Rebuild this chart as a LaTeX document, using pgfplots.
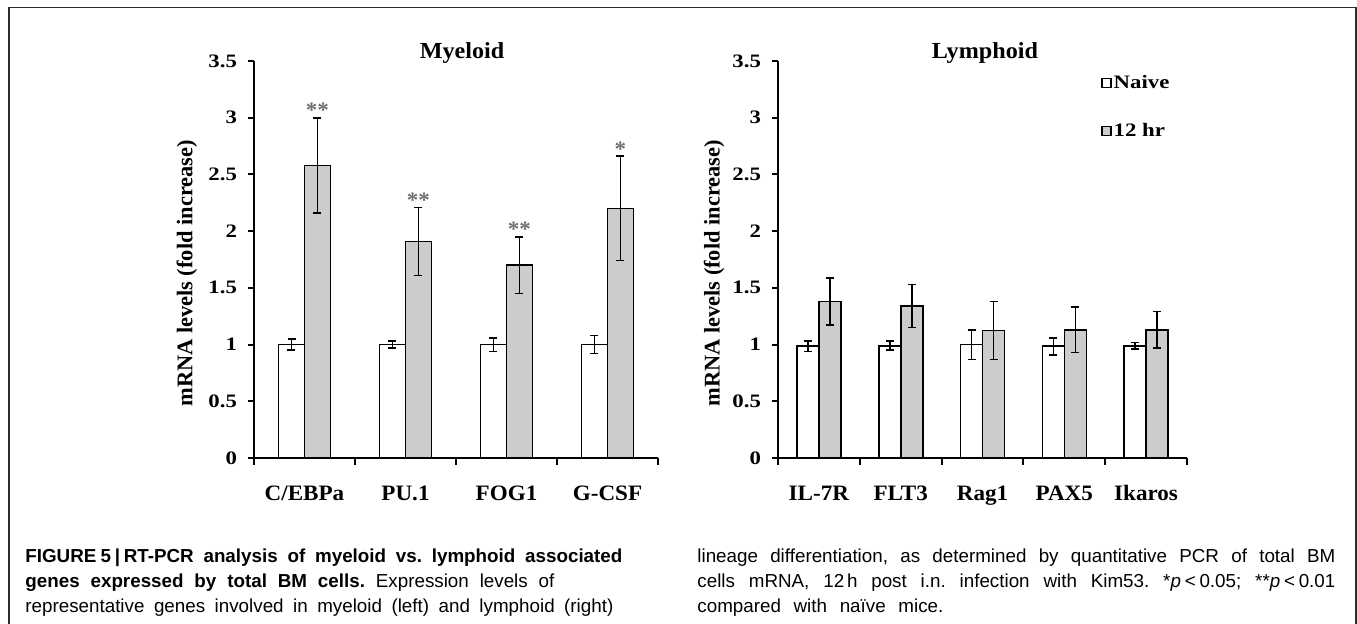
\documentclass[border=0pt]{standalone}
\usepackage{fontspec}
\usepackage{pgfplots}
\pgfplotsset{compat=1.18}
\setmainfont{Liberation Serif}
\newfontfamily\chartfont[FakeStretch=1.05]{Liberation Serif}
\newfontfamily\tickfont[FakeStretch=1.2]{Liberation Serif}
\newfontfamily\capfont{Liberation Sans}
\definecolor{barfill}{RGB}{204,204,204}
\definecolor{stargray}{RGB}{110,110,110}
\definecolor{framegray}{RGB}{45,45,45}
\frenchspacing

\pgfplotsset{
  mybase/.style={
    scale only axis, ymin=0, ymax=3.5, height=198.5pt,
    axis x line*=bottom, axis y line*=left,
    axis line style={line width=1pt, black},
    ytick={0,0.5,1,1.5,2,2.5,3,3.5},
    yticklabels={0,0.5,1,1.5,2,2.5,3,3.5},
    tick align=outside,
    major tick length=3pt, minor tick length=3.5pt,
    major x tick style={draw=none},
    minor x tick style={line width=1pt, black},
    major y tick style={line width=1pt, black},
    yticklabel style={font=\tickfont\bfseries\fontsize{9.5}{11}\selectfont, xshift=-2pt},
    xticklabel style={font=\chartfont\bfseries\fontsize{11}{13}\selectfont, anchor=base, yshift=-18.1pt},
    ylabel={mRNA levels (fold increase)},
    ylabel style={font=\bfseries\fontsize{11.2}{13}\selectfont, anchor=center},
    title style={font=\chartfont\bfseries\fontsize{11.5}{13}\selectfont, anchor=base, yshift=-5.5pt},
    clip=false,
  },
  sqlegend/.style={legend image code/.code={\draw[##1, line width=0.8pt] (0pt,-2.9pt) rectangle (4.5pt,1.6pt);}},
  errstyle/.style={error bars/.cd, y dir=both, y explicit,
    error bar style={line width=0.8pt, black},
    error mark options={rotate=90, mark size=2pt, line width=0.8pt, black}},
}

\begin{document}
\begin{tikzpicture}
\useasboundingbox (0,0) rectangle (678.5pt,311.5pt);
\draw[framegray, line width=0.75pt] (4.5pt,-1pt) -- (4.5pt,307.75pt) -- (678pt,307.75pt) -- (678pt,-1pt);

% ---------------- Myeloid ----------------
\begin{axis}[mybase,
  at={(127pt,82.5pt)}, anchor=south west,
  width=202pt, xmin=0, xmax=4,
  xtick={0.5,1.5,2.5,3.5}, xticklabels={C/EBPa,PU.1,FOG1,G-CSF},
  minor xtick={0,1,2,3,4},
  ylabel style={at={(axis description cs:-0.166,0.465)}},
  title={Myeloid}, title style={at={(axis description cs:0.515,1.003)}},
]
% Naive
\addplot[ybar, bar width=13pt, bar shift=0pt, fill=white, draw=black, line width=0.8pt, errstyle]
  coordinates {(0.37129,1) +- (0,0.05) (1.37129,1) +- (0,0.03) (2.37129,1) +- (0,0.06) (3.37129,1) +- (0,0.08)};
% 12 hr
\addplot[ybar, bar width=13pt, bar shift=0pt, fill=barfill, draw=black, line width=0.8pt, errstyle]
  coordinates {(0.62871,2.58) +- (0,0.42) (1.62871,1.91) +- (0,0.30) (2.62871,1.70) +- (0,0.25) (3.62871,2.20) +- (0,0.46)};
% significance marks
\addplot[draw=none, mark=none, nodes near coords, point meta=explicit symbolic,
  nodes near coords style={anchor=base, inner sep=0pt, yshift=0pt, text=stargray,
    font=\chartfont\bfseries\fontsize{11}{11}\selectfont}]
  coordinates {(0.62871,3.00) [**] (1.62871,2.21) [**] (2.62871,1.95) [**] (3.62871,2.66) [*]};
\end{axis}

% ---------------- Lymphoid ----------------
\begin{axis}[mybase,
  at={(389pt,82.5pt)}, anchor=south west,
  width=204.5pt, xmin=0, xmax=5,
  xtick={0.5,1.5,2.5,3.5,4.5}, xticklabels={IL-7R,FLT3,Rag1,PAX5,Ikaros},
  minor xtick={0,1,2,3,4,5},
  ylabel style={at={(axis description cs:-0.156,0.465)}},
  title={Lymphoid}, title style={at={(axis description cs:0.506,1.003)}},
  legend cell align=left,
  legend style={at={(axis description cs:0.79,0.964)}, anchor=north west,
    draw=none, fill=none, inner sep=0pt, outer sep=0pt,
    row sep=17.5pt, column sep=1pt,
    nodes={inner sep=0pt, text height=6.5pt, text depth=0pt,
      font=\tickfont\bfseries\fontsize{9.5}{11}\selectfont}},
]
\addplot[ybar, bar width=11pt, bar shift=0pt, fill=white, draw=black, line width=0.8pt, sqlegend, errstyle]
  coordinates {(0.36553,0.985) +- (0,0.045) (1.36553,0.99) +- (0,0.04) (2.36553,1.0) +- (0,0.13) (3.36553,0.985) +- (0,0.075) (4.36553,0.99) +- (0,0.03)};
\addplot[ybar, bar width=11pt, bar shift=0pt, fill=barfill, draw=black, line width=0.8pt, sqlegend, errstyle]
  coordinates {(0.63447,1.38) +- (0,0.205) (1.63447,1.34) +- (0,0.19) (2.63447,1.125) +- (0,0.255) (3.63447,1.13) +- (0,0.20) (4.63447,1.13) +- (0,0.16)};
\legend{Naive,12 hr}
\end{axis}

% ---------------- Caption ----------------
\begin{scope}[every node/.style={inner sep=0pt, anchor=base west}]
\node at (12.5pt,30.5pt) {\capfont\fontsize{9.4}{10}\selectfont\makebox[298.5pt][s]{\bfseries FIGURE\hspace{0.22em}5\hspace{0.2em}|\hspace{0.2em}RT-PCR analysis of myeloid vs. lymphoid associated}};
\node at (12.5pt,18pt) {\capfont\fontsize{9.4}{10}\selectfont\makebox[264.5pt][s]{\textbf{genes expressed by total BM cells.} Expression levels of}};
\node at (12.5pt,5.5pt) {\capfont\fontsize{9.4}{10}\selectfont\makebox[294pt][s]{representative genes involved in myeloid (left) and lymphoid (right)}};
\node at (348.5pt,30.5pt) {\capfont\fontsize{9.4}{10}\selectfont\makebox[319pt][s]{lineage differentiation, as determined by quantitative PCR of total BM}};
\node at (348.5pt,18pt) {\capfont\fontsize{9.4}{10}\selectfont\makebox[319pt][s]{cells mRNA, 12\hspace{0.15em}h post i.n. infection with Kim53. *\textit{p}\hspace{0.2em}<\hspace{0.2em}0.05; **\textit{p}\hspace{0.2em}<\hspace{0.2em}0.01}};
\node at (348.5pt,5.5pt) {\capfont\fontsize{9.4}{10}\selectfont\makebox[123pt][s]{compared with naïve mice.}};
\end{scope}
\end{tikzpicture}
\end{document}
